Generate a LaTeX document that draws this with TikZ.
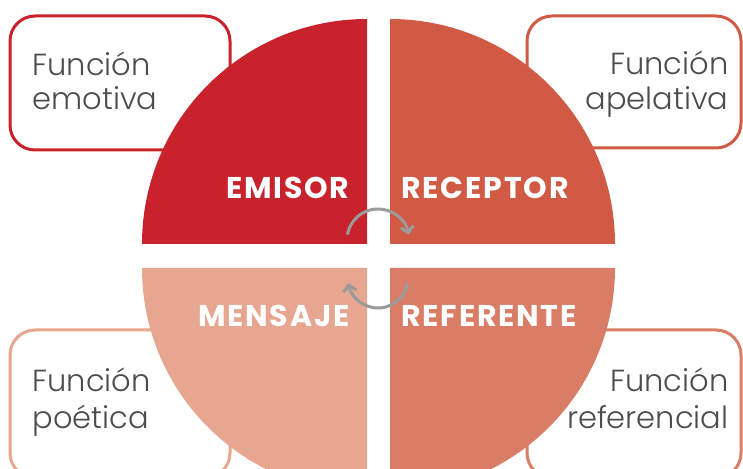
\documentclass[tikz,border=0pt]{standalone}
\usepackage{fontspec}
\setmainfont{Poppins}[UprightFont=* Light, BoldFont=* SemiBold]
\newfontfamily\quadfont{Poppins}[UprightFont=* Bold, LetterSpace=6]
\usetikzlibrary{arrows.meta}

\definecolor{emired}{RGB}{200,35,44}
\definecolor{recred}{RGB}{209,90,69}
\definecolor{refred}{RGB}{218,125,102}
\definecolor{menred}{RGB}{230,166,144}
\definecolor{txtgray}{RGB}{77,77,77}
\definecolor{arrgray}{RGB}{154,154,154}

\begin{document}
\begin{tikzpicture}[x=1pt, y=1pt, line width=3pt,
    funcbox/.style = {rounded corners=25pt, fill=white},
    func/.style = {text=txtgray, font=\fontsize{30.5}{34}\selectfont, inner sep=0pt},
    quad/.style = {text=white, font=\fontsize{30}{32}\quadfont, inner sep=0pt},
    turn/.style = {draw=arrgray, line width=3pt, -{Straight Barb[length=6pt, width=13pt]}}]

        \clip (0,0) rectangle (743,468);

        % the four boxes, behind the circle
        \draw[funcbox, draw=emired] (10,318) rectangle (230,452);
        \draw[funcbox, draw=recred] (527,320) rectangle (741,452);
        \draw[funcbox, draw=menred] (10,-10) rectangle (230,138);
        \draw[funcbox, draw=refred] (527,-10) rectangle (741,138);

        \fill[emired] (367,224) -- (142,224) arc[start angle=180, end angle=90, radius=225] -- cycle;
        \fill[recred] (390,224) -- (390,449) arc[start angle=90, end angle=0, radius=225] -- cycle;
        \fill[refred] (390,200) -- (615,200) arc[start angle=0, end angle=-90, radius=225] -- cycle;
        \fill[menred] (367,200) -- (367,-25) arc[start angle=270, end angle=180, radius=225] -- cycle;

        \node[quad, anchor=base east] (emi) at (351,269) {EMISOR};
        \node[quad, anchor=base west] (rec) at (400,269) {RECEPTOR};
        \node[quad, anchor=base east] (men) at (351,141) {MENSAJE};
        \node[quad, anchor=base west] (ref) at (400,141) {REFERENTE};

        \node[func, anchor=base west] (emoA) at (31,392) {Función};
        \node[func, anchor=base west] (emoB) at (31,358) {emotiva};
        \node[func, anchor=base east] (apeA) at (730,393) {Función};
        \node[func, anchor=base east] (apeB) at (730,358) {apelativa};
        \node[func, anchor=base west] (poeA) at (31,76) {Función};
        \node[func, anchor=base west] (poeB) at (31,40) {poética};
        \node[func, anchor=base east] (refA) at (730,76) {Función};
        \node[func, anchor=base east] (refB) at (730,40) {referencial};

        \draw[turn] (378,228) ++(170:31) arc[start angle=170, end angle=10, radius=31];
        \draw[turn] (378,190) ++(-10:30) arc[start angle=-10, end angle=-170, radius=30];

    \end{tikzpicture}
\end{document}
